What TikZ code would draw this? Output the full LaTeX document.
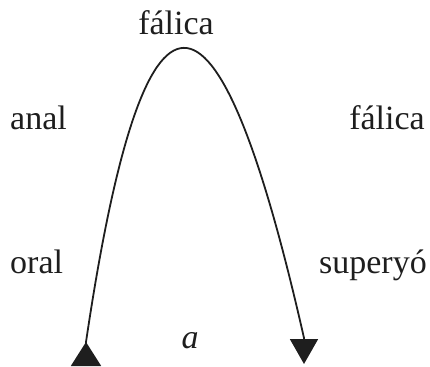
\documentclass[tikz,border=0pt]{standalone}
\usepackage{fontspec}
\setmainfont{Liberation Serif}
\usetikzlibrary{arrows.meta}
\definecolor{InkGray}{HTML}{1E1E1E}

\tikzset{
  stage/.style={font=\fontsize{34}{40}\selectfont, text=InkGray, inner sep=0pt},
  libido/.style={line width=1.8pt, draw=InkGray},
  headtip/.style={line width=1.8pt, draw=InkGray, shorten >=0pt}
}

\begin{document}
\begin{tikzpicture}[x=1pt,y=-1pt]
        \useasboundingbox (0,0) rectangle (430,366);
        % stage labels
        \node[stage, anchor=base] (top) at (176,35) {fálica};
        \node[stage, anchor=base west] (anal) at (10,130) {anal};
        \node[stage, anchor=base east] (falR) at (425,130) {fálica};
        \node[stage, anchor=base west] (oral) at (10,273) {oral};
        \node[stage, anchor=base east] (supery) at (427,273) {superyó};
        \node[stage, anchor=base] (alabel) at (190,348) {\itshape a};
        % the arc and its two heads
        \coordinate (leftbase) at (86,366);
        \coordinate (start) at (86,342);
        \coordinate (finish) at (304,338);
        \coordinate (righttip) at (304,364);
        \draw[libido] (start) .. controls (144,-49) and (216,-50) .. (finish);
        \draw[headtip, {Triangle[reversed,width=30pt,length=24pt]}-] (leftbase) -- (start);
        \draw[headtip, -{Triangle[width=28pt,length=25pt]}] (finish) -- (righttip);
      \end{tikzpicture}
\end{document}
